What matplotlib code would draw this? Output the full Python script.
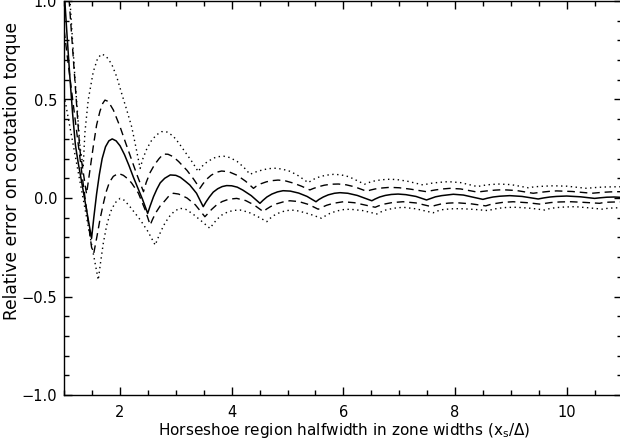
import matplotlib
matplotlib.use("Agg")
import matplotlib.pyplot as plt
from matplotlib.ticker import MultipleLocator, FuncFormatter

# ---- data ----
x_solid = [1.00, 1.05, 1.10, 1.15, 1.20, 1.25, 1.32, 1.40, 1.49, 1.53, 1.58, 1.63, 1.68, 1.74, 1.80, 1.86, 1.93, 2.0, 2.08, 2.16, 2.24, 2.32, 2.40, 2.495,
           2.54, 2.6, 2.66, 2.72, 2.8, 2.9, 3.0, 3.08, 3.17, 3.25, 3.37, 3.49, 3.54, 3.6, 3.67, 3.75, 3.83, 3.91, 4.0,
           4.1, 4.2, 4.35, 4.506, 4.56, 4.63, 4.72, 4.82, 4.92, 5.05, 5.2, 5.35, 5.51, 5.56, 5.64, 5.73, 5.84, 5.94, 6.08,
           6.25, 6.51, 6.57, 6.65, 6.75, 6.86, 6.98, 7.12, 7.3, 7.49, 7.56, 7.65, 7.76, 7.97, 8.15, 8.5, 8.58, 8.68, 8.8,
           8.98, 9.2, 9.49, 9.58, 9.7, 9.82, 10.0, 10.25, 10.5, 10.6, 10.72, 10.85, 11.0]
y_solid = [1.05, 0.83, 0.62, 0.43, 0.27, 0.18, 0.07, -0.06, -0.205, -0.10, 0.02, 0.12, 0.20, 0.26, 0.29, 0.30, 0.29, 0.265, 0.22, 0.165, 0.105, 0.05, -0.005, -0.078,
           -0.04, 0.007, 0.045, 0.077, 0.10, 0.117, 0.115, 0.105, 0.085, 0.066, 0.024, -0.044, -0.02, 0.005, 0.03, 0.047, 0.058, 0.063, 0.062,
           0.055, 0.04, 0.012, -0.027, -0.012, 0.005, 0.02, 0.031, 0.037, 0.035, 0.025, 0.008, -0.019, -0.008, 0.005, 0.016, 0.024, 0.027, 0.024,
           0.013, -0.014, -0.005, 0.005, 0.013, 0.018, 0.02, 0.017, 0.008, -0.01, -0.003, 0.006, 0.012, 0.019, 0.015, -0.007, -0.001, 0.005, 0.009,
           0.012, 0.008, -0.005, 0.0, 0.005, 0.008, 0.01, 0.006, -0.002, 0.001, 0.004, 0.005, 0.003]

x_dash_hi = [1.00, 1.13, 1.28, 1.40, 1.46, 1.52, 1.58, 1.64, 1.69, 1.73, 1.79, 1.88, 2.0, 2.1, 2.2, 2.3, 2.42,
             2.47, 2.54, 2.62, 2.7, 2.775, 2.86, 2.95, 3.05, 3.2, 3.32, 3.43, 3.48, 3.55, 3.63, 3.72, 3.82, 3.95, 4.1, 4.25, 4.39,
             4.44, 4.52, 4.62, 4.72, 4.83, 4.95, 5.1, 5.25, 5.40, 5.46, 5.55, 5.66, 5.78, 5.91, 6.05, 6.2, 6.42,
             6.48, 6.57, 6.7, 6.83, 7.0, 7.2, 7.49, 7.55, 7.65, 7.78, 7.91, 8.1, 8.4, 8.48, 8.6, 8.72, 8.85, 9.1, 9.4,
             9.48, 9.6, 9.7, 9.82, 10.1, 10.45, 10.53, 10.65, 10.78, 10.9, 11.0]
y_dash_hi = [1.35, 0.84, 0.245, 0.02, 0.14, 0.26, 0.37, 0.44, 0.48, 0.497, 0.49, 0.447, 0.362, 0.28, 0.20, 0.12, 0.032,
             0.08, 0.13, 0.17, 0.20, 0.223, 0.222, 0.21, 0.185, 0.14, 0.095, 0.049, 0.07, 0.095, 0.115, 0.13, 0.137, 0.133, 0.115, 0.085, 0.049,
             0.06, 0.072, 0.082, 0.088, 0.091, 0.088, 0.076, 0.06, 0.041, 0.048, 0.057, 0.065, 0.07, 0.071, 0.067, 0.057, 0.034,
             0.04, 0.046, 0.051, 0.054, 0.052, 0.045, 0.032, 0.036, 0.041, 0.046, 0.049, 0.046, 0.03, 0.033, 0.037, 0.04, 0.042, 0.038, 0.024,
             0.027, 0.031, 0.034, 0.036, 0.033, 0.024, 0.026, 0.029, 0.031, 0.032, 0.032]

x_dash_lo = [1.00, 1.07, 1.2, 1.35, 1.49, 1.53, 1.59, 1.64, 1.70, 1.75, 1.81, 1.88, 1.97, 2.06, 2.15, 2.21, 2.33, 2.45, 2.54,
             2.58, 2.64, 2.72, 2.8, 2.88, 2.955, 3.05, 3.2, 3.35, 3.52, 3.57, 3.64, 3.73, 3.83, 3.95, 4.09, 4.25, 4.4, 4.57,
             4.62, 4.7, 4.8, 4.92, 5.04, 5.2, 5.38, 5.55, 5.61, 5.7, 5.82, 6.0, 6.2, 6.57, 6.63, 6.73, 6.88, 7.07, 7.3, 7.58,
             7.64, 7.74, 7.88, 8.03, 8.3, 8.55, 8.62, 8.72, 8.86, 9.04, 9.3, 9.55, 9.62, 9.72, 9.88, 10.08, 10.3, 10.59, 10.66, 10.76, 10.9, 11.0]
y_dash_lo = [0.85, 0.685, 0.39, 0.05, -0.25, -0.28, -0.19, -0.11, -0.03, 0.03, 0.08, 0.11, 0.125, 0.115, 0.095, 0.075, 0.024, -0.06, -0.137,
             -0.11, -0.075, -0.04, -0.015, 0.012, 0.024, 0.02, 0.0, -0.035, -0.095, -0.08, -0.058, -0.035, -0.018, -0.006, -0.002, -0.013, -0.035, -0.07,
             -0.057, -0.043, -0.03, -0.02, -0.014, -0.018, -0.033, -0.057, -0.048, -0.037, -0.027, -0.019, -0.024, -0.047, -0.04, -0.031, -0.023, -0.019, -0.025, -0.044,
             -0.038, -0.031, -0.026, -0.024, -0.03, -0.04, -0.034, -0.028, -0.022, -0.019, -0.024, -0.032, -0.027, -0.023, -0.02, -0.019, -0.022, -0.027, -0.023, -0.021, -0.02, -0.02]

x_dot_hi = [1.00, 1.104, 1.19, 1.283, 1.34, 1.37, 1.43, 1.52, 1.60, 1.671, 1.75, 1.85, 1.94, 2.03, 2.12, 2.21, 2.29, 2.36,
            2.41, 2.48, 2.56, 2.65, 2.746, 2.84, 2.95, 3.05, 3.2, 3.30, 3.40, 3.45, 3.52, 3.6, 3.68, 3.76, 3.86, 3.97, 4.1, 4.22, 4.33,
            4.38, 4.46, 4.56, 4.66, 4.775, 4.9, 5.05, 5.2, 5.37, 5.42, 5.5, 5.6, 5.7, 5.82, 5.95, 6.1, 6.38,
            6.44, 6.53, 6.65, 6.78, 6.95, 7.15, 7.43, 7.49, 7.58, 7.7, 7.88, 8.1, 8.4, 8.47, 8.58, 8.77, 9.0, 9.31,
            9.38, 9.48, 9.6, 9.76, 10.0, 10.36, 10.43, 10.55, 10.7, 10.9, 11.0]
y_dot_hi = [1.40, 1.00, 0.62, 0.26, 0.155, 0.33, 0.497, 0.64, 0.71, 0.731, 0.72, 0.68, 0.616, 0.53, 0.447, 0.36, 0.25, 0.15,
            0.2, 0.25, 0.29, 0.32, 0.337, 0.335, 0.315, 0.28, 0.22, 0.18, 0.134, 0.155, 0.175, 0.19, 0.203, 0.21, 0.212, 0.205, 0.185, 0.155, 0.12,
            0.127, 0.135, 0.143, 0.149, 0.151, 0.147, 0.135, 0.112, 0.078, 0.087, 0.1, 0.11, 0.116, 0.12, 0.118, 0.108, 0.07,
            0.077, 0.085, 0.091, 0.095, 0.094, 0.085, 0.066, 0.07, 0.075, 0.079, 0.083, 0.078, 0.058, 0.062, 0.067, 0.071, 0.068, 0.052,
            0.055, 0.058, 0.06, 0.062, 0.06, 0.049, 0.051, 0.054, 0.056, 0.057, 0.057]

x_dot_lo = [1.00, 1.07, 1.2, 1.35, 1.5, 1.61, 1.65, 1.70, 1.76, 1.83, 1.91, 2.0, 2.08, 2.18, 2.36, 2.5, 2.63,
            2.67, 2.73, 2.8, 2.88, 2.97, 3.07, 3.18, 3.3, 3.45, 3.61, 3.66, 3.73, 3.82, 3.92, 4.03, 4.15, 4.3, 4.45, 4.63,
            4.68, 4.76, 4.86, 4.96, 5.07, 5.2, 5.4, 5.61, 5.67, 5.76, 5.88, 6.0, 6.12, 6.35, 6.6, 6.66, 6.76, 6.9, 7.07, 7.3, 7.61,
            7.67, 7.78, 7.92, 8.09, 8.35, 8.6, 8.67, 8.78, 8.92, 9.1, 9.35, 9.61, 9.68, 9.8, 9.95, 10.15, 10.4, 10.65, 10.72, 10.85, 11.0]
y_dot_lo = [0.52, 0.41, 0.21, -0.02, -0.25, -0.416, -0.33, -0.23, -0.14, -0.07, -0.025, -0.002, -0.012, -0.045, -0.11, -0.17, -0.239,
            -0.21, -0.17, -0.13, -0.095, -0.068, -0.052, -0.058, -0.08, -0.115, -0.154, -0.135, -0.11, -0.087, -0.072, -0.063, -0.061, -0.072, -0.092, -0.12,
            -0.105, -0.088, -0.074, -0.065, -0.061, -0.066, -0.082, -0.103, -0.092, -0.078, -0.066, -0.059, -0.057, -0.064, -0.081, -0.072, -0.061, -0.052, -0.047, -0.055, -0.075,
            -0.067, -0.059, -0.055, -0.054, -0.058, -0.064, -0.058, -0.052, -0.048, -0.047, -0.052, -0.061, -0.055, -0.049, -0.046, -0.044, -0.05, -0.057, -0.053, -0.05, -0.05]

x_label = "Horseshoe region halfwidth in zone widths (x$_\\mathregular{s}$/\u0394)"
y_label = "Relative error on corotation torque"

plt.rcParams['font.family'] = ['DejaVu Sans']
W, H = 620, 444
fig = plt.figure(figsize=(6.2, 4.44), dpi=100)
ax = fig.add_axes([64.2 / W, 49 / H, 558.3 / W, 394 / H])

lw = 1.0
dot = (0, (1, 2.5))
dash = (0, (5.5, 3.5))
ax.plot(x_dot_hi, y_dot_hi, color='black', lw=lw, linestyle=dot)
ax.plot(x_dash_hi, y_dash_hi, color='black', lw=lw, linestyle=dash)
ax.plot(x_solid, y_solid, color='black', lw=1.1, linestyle='-')
ax.plot(x_dash_lo, y_dash_lo, color='black', lw=lw, linestyle=dash)
ax.plot(x_dot_lo, y_dot_lo, color='black', lw=lw, linestyle=dot)

ax.set_xlim(1, 11)
ax.set_ylim(-1, 1)
ax.xaxis.set_major_locator(MultipleLocator(2))
ax.xaxis.set_minor_locator(MultipleLocator(0.5))
ax.yaxis.set_major_locator(MultipleLocator(0.5))
ax.yaxis.set_minor_locator(MultipleLocator(0.1))
ax.tick_params(which='both', direction='in', top=True, right=True, width=1.0, labelsize=10.5)
ax.tick_params(axis='x', which='both', pad=7)
ax.tick_params(axis='y', which='both', pad=5)
ax.tick_params(which='major', length=5.8)
ax.tick_params(which='minor', length=3.6)
ax.yaxis.set_major_formatter(FuncFormatter(lambda v, p: ("%.1f" % v).replace("-", "\u2212")))
for s in ax.spines.values():
    s.set_linewidth(1.0)

fig.text(344 / W, 1 - 430 / H, x_label, fontsize=11, ha='center', va='center')
fig.text(12 / W, 1 - 171 / H, y_label, fontsize=12.3, ha='center', va='center', rotation=90)

fig.savefig("out.png", dpi=100)
